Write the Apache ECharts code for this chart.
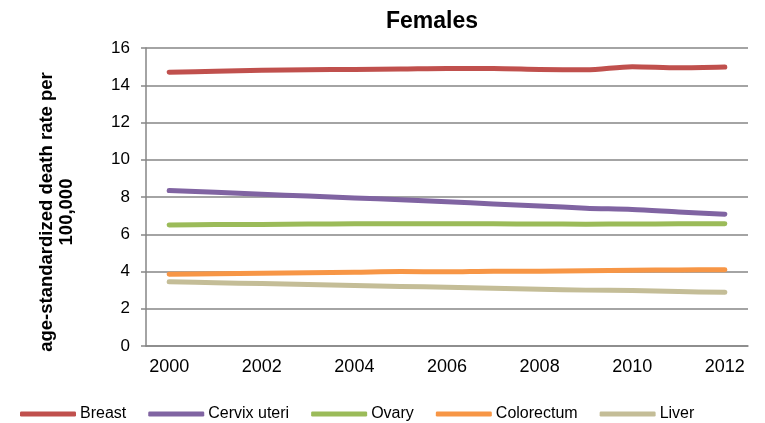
<!DOCTYPE html>
<html>
<head>
<meta charset="utf-8">
<script src="https://cdn.jsdelivr.net/npm/echarts@6/dist/echarts.min.js"></script>
<style>html,body{margin:0;padding:0;background:#fff}#c{width:765px;height:423px}</style>
</head>
<body>
<div id="c"></div>
<script>
const years = ['2000','2001','2002','2003','2004','2005','2006','2007','2008','2009','2010','2011','2012'];
const breast = [14.70,14.75,14.80,14.83,14.85,14.87,14.90,14.90,14.85,14.83,15.00,14.94,14.98];
const cervixUteri = [8.35,8.25,8.15,8.05,7.95,7.85,7.75,7.63,7.52,7.40,7.33,7.20,7.08];
const ovary = [6.50,6.52,6.53,6.55,6.56,6.56,6.56,6.56,6.55,6.54,6.55,6.56,6.57];
const colorectum = [3.85,3.88,3.90,3.93,3.96,4.00,3.98,4.02,4.02,4.04,4.07,4.08,4.10];
const liver = [3.45,3.40,3.35,3.30,3.25,3.20,3.15,3.10,3.05,3.00,2.98,2.92,2.88];
const yTicks = {min:0, max:16, interval:2};
const yTitle = 'age-standardized death rate per\n100,000';

const FONT = '"Liberation Sans", Arial, sans-serif';
const seriesDefs = [
  {name:'Breast', data:breast, color:'#C0504D'},
  {name:'Cervix uteri', data:cervixUteri, color:'#8064A2'},
  {name:'Ovary', data:ovary, color:'#9BBB59'},
  {name:'Colorectum', data:colorectum, color:'#F79646'},
  {name:'Liver', data:liver, color:'#C4BD97'}
];
const chart = echarts.init(document.getElementById('c'), null, {renderer:'canvas'});
chart.setOption({
  animation:false,
  title:{text:'Females', left:381, top:5, textStyle:{fontFamily:FONT, fontSize:23, fontWeight:'bold', color:'#000'}},
  legend:{
    left:15, top:401, itemWidth:56, itemHeight:5, itemGap:22, icon:'roundRect',
    textStyle:{fontFamily:FONT, fontSize:16, color:'#000', padding:[0,0,0,-1]},
    data:seriesDefs.map(s=>s.name)
  },
  graphic:[{
    type:'text', x:57, y:212, rotation:Math.PI/2,
    style:{text:yTitle, align:'center', verticalAlign:'middle', fill:'#000',
      font:'bold 18.5px "Liberation Sans", Arial, sans-serif', lineHeight:20}
  }],
  grid:{left:146, right:17, top:48, bottom:77, containLabel:false},
  xAxis:{
    type:'category', data:years, boundaryGap:true,
    axisLine:{lineStyle:{color:'#868686', width:1.5}},
    axisTick:{show:false},
    axisLabel:{interval:1, margin:12, fontFamily:FONT, fontSize:18, color:'#000'},
    splitLine:{show:false}
  },
  yAxis:{
    type:'value', min:yTicks.min, max:yTicks.max, interval:yTicks.interval,
    axisLine:{show:true, lineStyle:{color:'#868686', width:1.5}},
    axisTick:{show:true, length:5, lineStyle:{color:'#868686', width:1.5}},
    axisLabel:{margin:16, fontFamily:FONT, fontSize:17, color:'#000'},
    splitLine:{lineStyle:{color:'#868686', width:1.5}}
  },
  series:seriesDefs.map(s=>({
    name:s.name, type:'line', data:s.data, showSymbol:false, symbol:'none', smooth:0.3,
    lineStyle:{color:s.color, width:5, cap:'round', join:'round'},
    itemStyle:{color:s.color}
  }))
});
</script>
</body>
</html>
